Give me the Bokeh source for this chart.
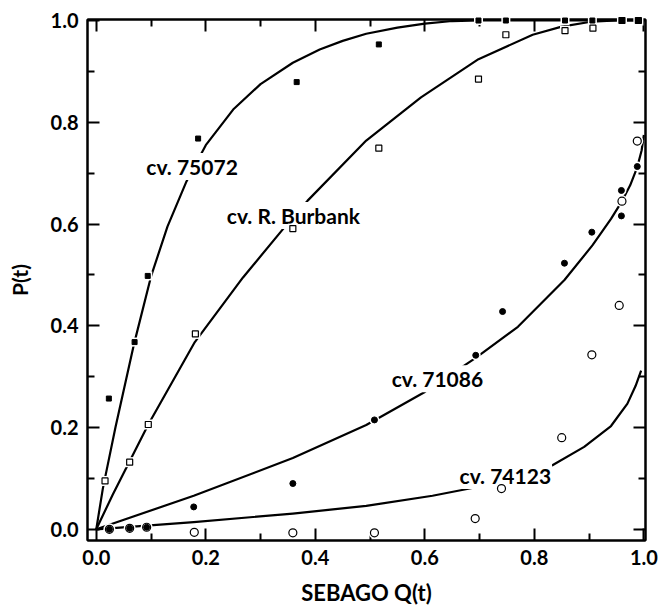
from bokeh.plotting import figure
from bokeh.models import Range1d, FixedTicker, LinearAxis, Label
from bokeh.embed import file_html
from bokeh.resources import INLINE

# ---------------- data ----------------
tick_values = [0.0, 0.2, 0.4, 0.6, 0.8, 1.0]
tick_labels = ["0.0", "0.2", "0.4", "0.6", "0.8", "1.0"]
minor_values = [0.1, 0.3, 0.5, 0.7, 0.9]

# observed points (Sebago Q(t), cultivar P(t))
q_75072 = [0.023, 0.070, 0.094, 0.186, 0.366, 0.516, 0.698, 0.748, 0.856, 0.906, 0.960, 0.990]
p_75072 = [0.257, 0.368, 0.498, 0.768, 0.879, 0.953, 1.000, 1.000, 1.000, 1.000, 1.000, 1.000]

q_burbank = [0.016, 0.061, 0.095, 0.181, 0.359, 0.516, 0.698, 0.748, 0.856, 0.907, 0.960, 0.990]
p_burbank = [0.095, 0.132, 0.206, 0.384, 0.591, 0.749, 0.885, 0.972, 0.980, 0.985, 1.000, 1.000]

q_71086 = [0.024, 0.061, 0.092, 0.178, 0.359, 0.508, 0.693, 0.742, 0.855, 0.905, 0.959, 0.959, 0.988]
p_71086 = [0.000, 0.002, 0.004, 0.044, 0.090, 0.215, 0.342, 0.428, 0.523, 0.584, 0.666, 0.616, 0.713]

q_74123 = [0.024, 0.061, 0.092, 0.179, 0.359, 0.508, 0.692, 0.740, 0.850, 0.905, 0.955, 0.960, 0.988]
p_74123 = [0.000, 0.002, 0.004, -0.006, -0.007, -0.007, 0.021, 0.080, 0.180, 0.343, 0.440, 0.645, 0.763]

# fitted curves
cq_75072 = [0.0, 0.012, 0.035, 0.068, 0.100, 0.130, 0.164, 0.200, 0.250, 0.300, 0.359,
            0.408, 0.450, 0.493, 0.550, 0.600, 0.650, 0.700, 1.0]
cp_75072 = [0.0, 0.080, 0.200, 0.360, 0.497, 0.595, 0.682, 0.755, 0.825, 0.875, 0.917,
            0.943, 0.960, 0.974, 0.986, 0.994, 0.999, 1.000, 1.0]

cq_burbank = [0.0, 0.030, 0.061, 0.095, 0.180, 0.268, 0.344, 0.386, 0.493, 0.593, 0.698,
              0.797, 0.850, 0.906, 0.950, 1.0]
cp_burbank = [0.0, 0.068, 0.134, 0.206, 0.368, 0.495, 0.594, 0.646, 0.764, 0.849, 0.924,
              0.972, 0.988, 0.998, 1.000, 1.0]

cq_71086 = [0.0, 0.178, 0.359, 0.493, 0.600, 0.693, 0.770, 0.855, 0.906, 0.940, 0.959,
            0.975, 0.988, 0.996, 1.0]
cp_71086 = [0.0, 0.066, 0.140, 0.205, 0.270, 0.337, 0.398, 0.490, 0.558, 0.610, 0.643,
            0.676, 0.712, 0.745, 0.775]

cq_74123 = [0.0, 0.178, 0.359, 0.493, 0.614, 0.724, 0.780, 0.833, 0.891, 0.940, 0.970,
            0.985, 0.995]
cp_74123 = [0.0, 0.014, 0.031, 0.046, 0.066, 0.089, 0.105, 0.126, 0.162, 0.203, 0.247,
            0.282, 0.312]

curve_names = ["cv. 75072", "cv. R. Burbank", "cv. 71086", "cv. 74123"]
name_q = [0.175, 0.360, 0.623, 0.747]
name_p = [0.713, 0.617, 0.296, 0.106]

x_title = "SEBAGO Q(t)"
y_title = "P(t)"

FONT = "Lato"

# ---------------- figure ----------------
p = figure(width=660, height=608, output_backend="svg", toolbar_location=None,
           x_range=Range1d(-0.016, 1.003), y_range=Range1d(-0.022, 1.002),
           min_border_left=87, min_border_right=15, min_border_top=19,
           min_border_bottom=68)
p.xgrid.visible = False
p.ygrid.visible = False
p.outline_line_color = "black"
p.outline_line_width = 2
p.background_fill_color = "white"
p.border_fill_color = "white"


def style_axis(ax, show_labels):
    ax.ticker = FixedTicker(ticks=tick_values, minor_ticks=minor_values)
    ax.major_tick_in = 12
    ax.major_tick_out = 0
    ax.minor_tick_in = 7
    ax.minor_tick_out = 0
    ax.major_tick_line_width = 2
    ax.minor_tick_line_width = 2
    ax.major_tick_line_color = "black"
    ax.minor_tick_line_color = "black"
    ax.axis_line_width = 2
    ax.axis_line_color = "black"
    if show_labels:
        ax.major_label_overrides = {v: t for v, t in zip(tick_values, tick_labels)}
        ax.major_label_text_font = FONT
        ax.major_label_text_font_style = "bold"
        ax.major_label_text_font_size = "20px"
        ax.major_label_text_color = "black"
        ax.major_label_standoff = 9
        ax.axis_label_text_font = FONT
        ax.axis_label_text_font_style = "bold"
        ax.axis_label_text_color = "black"
    else:
        ax.major_label_text_font_size = "0px"
        ax.major_label_text_color = None
        ax.major_label_standoff = 0


style_axis(p.xaxis[0], True)
style_axis(p.yaxis[0], True)
p.xaxis.axis_label = x_title
p.xaxis.axis_label_text_font_size = "22px"
p.xaxis.axis_label_standoff = 11
p.yaxis.axis_label = y_title
p.yaxis.axis_label_text_font_size = "21px"
p.yaxis.axis_label_standoff = 16

top_ax = LinearAxis()
right_ax = LinearAxis()
style_axis(top_ax, False)
style_axis(right_ax, False)
p.add_layout(top_ax, "above")
p.add_layout(right_ax, "right")

# curves
for cq, cp in [(cq_75072, cp_75072), (cq_burbank, cp_burbank),
               (cq_71086, cp_71086), (cq_74123, cp_74123)]:
    p.line(cq, cp, line_color="black", line_width=2.2, line_join="round")

# curve names with white boxes (break the lines like the original)
for name, nq, npv in zip(curve_names, name_q, name_p):
    p.add_layout(Label(x=nq, y=npv, text=name, text_align="center",
                       text_baseline="middle", text_font=FONT,
                       text_font_style="bold", text_font_size="21px",
                       text_color="black", background_fill_color="white",
                       padding=1))

# white halos around the points, then the points themselves
halo_specs = [
    (q_75072, p_75072, "square", 9),
    (q_burbank, p_burbank, "square", 10),
    (q_71086, p_71086, "circle", 10),
    (q_74123, p_74123, "circle", 12),
]
for hq, hp, mk, sz in halo_specs:
    r = p.scatter(hq, hp, marker=mk, size=sz, fill_color="white", line_color=None)
    r.level = "overlay"

r = p.scatter(q_74123, p_74123, marker="circle", size=8, fill_color="white",
              line_color="black", line_width=1.2)
r.level = "overlay"
r = p.scatter(q_burbank, p_burbank, marker="square", size=6, fill_color="white",
              line_color="black", line_width=1.2)
r.level = "overlay"
r = p.scatter(q_71086, p_71086, marker="circle", size=6, fill_color="black",
              line_color="black")
r.level = "overlay"
r = p.scatter(q_75072, p_75072, marker="square", size=5, fill_color="black",
              line_color="black")
r.level = "overlay"

open("out.html", "w").write(file_html(p, INLINE))
